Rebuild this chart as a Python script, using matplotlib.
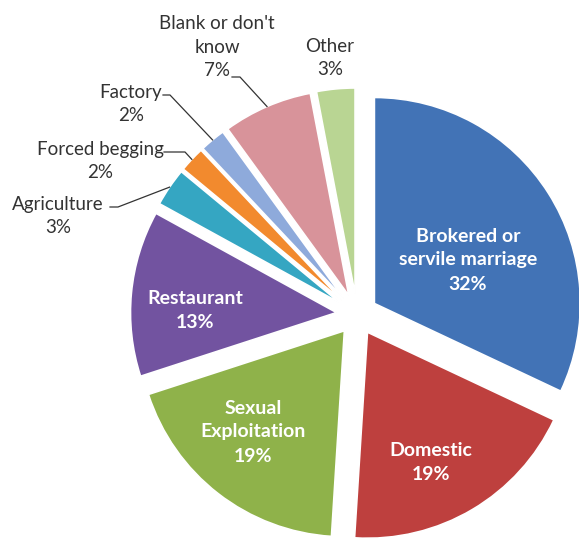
import matplotlib
matplotlib.use("Agg")
import matplotlib.pyplot as plt
import numpy as np

# work categories and their shares (%), clockwise from 12 o'clock
categories = ["Brokered or\nservile marriage", "Domestic", "Sexual\nExploitation",
              "Restaurant", "Agriculture", "Forced begging", "Factory",
              "Blank or don't\nknow", "Other"]
shares = [32, 19, 19, 13, 3, 2, 2, 7, 3]

colors = ["#4273B6", "#BE403E", "#8FB24A", "#7253A0", "#35A6C2",
          "#F28A2E", "#8EAADB", "#D8939A", "#B9D593"]

R = 206.0          # pie radius in pixels
CX, CY = 357, 314.5   # pie centre in pixels (from top-left)
W, H = 579, 542


def px(x, y):
    # pixel position (top-left origin) -> data units of the pie
    return (x - CX) / R, (CY - y) / R


fig = plt.figure(figsize=(W / 100, H / 100), dpi=100)
ax = fig.add_axes([0, 0, 1, 1])
wedges, _ = ax.pie(shares, colors=colors, startangle=90, counterclock=False,
                   explode=[0.1] * len(shares), radius=1.0,
                   wedgeprops=dict(edgecolor="white", linewidth=1.2))
ax.set_xlim(-CX / R, (W - CX) / R)
ax.set_ylim(-(H - CY) / R, CY / R)
ax.set_aspect("equal")
ax.axis("off")

lbl_font = "Lato"
dark = "#333333"

# labels inside the big slices (pixel centres)
inside = {0: (468, 260), 1: (431, 463), 2: (253, 432), 3: (195, 311)}
for i, (x, y) in inside.items():
    ax.text(*px(x, y), f"{categories[i]}\n{shares[i]}%", ha="center", va="center",
            color="white", fontsize=14, fontweight="bold", family=lbl_font,
            linespacing=1.5)

# labels outside the thin slices
outside = {4: (58, 216), 5: (100, 161), 6: (131, 104), 7: (217, 47), 8: (330, 58)}
for i, (x, y) in outside.items():
    ax.text(*px(x, y), f"{categories[i]}\n{shares[i]}%", ha="center", va="center",
            color=dark, fontsize=13.5, family=lbl_font, linespacing=1.45)

# leader lines: start at the label, bend, then run to the slice's outer rim
leaders = {4: [(110, 207), (118, 207)], 5: [(164, 152), (185, 152)],
           6: [(163, 95), (170, 95)], 7: [(232, 77), (240, 77)]}
for i, pts in leaders.items():
    w = wedges[i]
    mid = np.deg2rad((w.theta1 + w.theta2) / 2)
    ex = w.center[0] + w.r * np.cos(mid)
    ey = w.center[1] + w.r * np.sin(mid)
    xs = [px(*p)[0] for p in pts] + [ex]
    ys = [px(*p)[1] for p in pts] + [ey]
    ax.plot(xs, ys, color=dark, lw=0.9)

plt.savefig("out.png", dpi=100, facecolor="white")
print("saved")
